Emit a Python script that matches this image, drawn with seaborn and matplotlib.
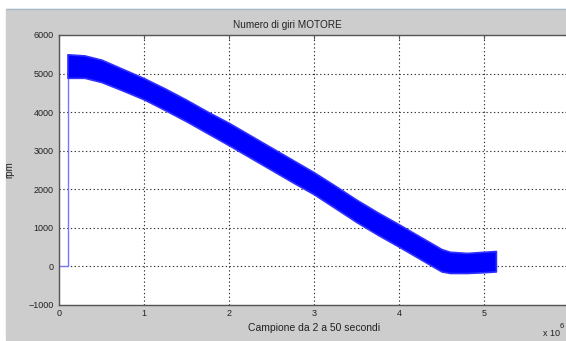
import numpy as np
import pandas as pd
import seaborn as sns
import matplotlib.pyplot as plt
from matplotlib.patches import Rectangle
from matplotlib.lines import Line2D

# start of the trace: zero, then jump up to the band
trace_x = [0, 0.10e6, 0.10e6]
trace_y = [0, 0, 5000]

# envelope of the noisy rpm band
band_x = [0.10e6, 0.30e6, 0.50e6, 0.75e6, 1.00e6, 1.25e6, 1.50e6, 1.75e6,
          2.00e6, 2.25e6, 2.50e6, 2.75e6, 3.00e6, 3.25e6, 3.50e6, 3.75e6,
          4.00e6, 4.25e6, 4.50e6, 4.60e6, 4.80e6, 5.00e6, 5.14e6]
band_hi = [5500, 5470, 5360, 5120, 4880, 4610, 4320, 4010,
           3720, 3400, 3080, 2760, 2440, 2090, 1730, 1400,
           1090, 770, 450, 380, 350, 380, 400]
band_lo = [4890, 4890, 4780, 4560, 4330, 4050, 3760, 3450,
           3140, 2820, 2500, 2180, 1870, 1510, 1150, 820,
           510, 190, -130, -170, -170, -150, -130]

xticks = [0, 1e6, 2e6, 3e6, 4e6, 5e6, 6e6]
xtick_labels = ['0', '1', '2', '3', '4', '5', '6']
yticks = [-1000, 0, 1000, 2000, 3000, 4000, 5000, 6000]

sns.set_style("white")
plt.rcParams['font.family'] = ['Liberation Sans', 'DejaVu Sans']

W, H = 566, 341
fig = plt.figure(figsize=(W / 100, H / 100), dpi=100, facecolor='white')
fig.patches.append(Rectangle((6 / W, 1 / H), 1, 1 - 10 / H, transform=fig.transFigure,
                             color='#cdcdcd', zorder=-2))
fig.lines.append(Line2D([6 / W, 1], [1 - 9 / H, 1 - 9 / H], transform=fig.transFigure,
                        color='#a9b9c9', lw=1))

ax = fig.add_axes([59 / W, 1 - 305 / H, 510 / W, 270 / H])
ax.set_facecolor('white')

df = pd.DataFrame({'x': band_x, 'hi': band_hi, 'lo': band_lo})
ax.fill_between(df['x'], df['lo'], df['hi'], color='#0000ff', lw=1.2,
                edgecolor='#3030ff', zorder=3)
sns.lineplot(x=trace_x, y=trace_y, sort=False, estimator=None, color='#7878ff',
             lw=1, ax=ax, zorder=2)

ax.set_xlim(0, 6e6)
ax.set_ylim(-1000, 6000)
ax.set_xticks(xticks, xtick_labels)
ax.set_yticks(yticks)
ax.grid(True, color='#333333', ls=(0, (1.2, 2.2)), lw=0.8)
ax.set_axisbelow(True)
for s in ax.spines.values():
    s.set_color('#555555')
    s.set_linewidth(1)
ax.tick_params(direction='in', length=3, width=0.8, colors='#555555',
               labelcolor='#222222', labelsize=6.5, top=True, right=True)
ax.tick_params(axis='y', pad=4)
ax.tick_params(axis='x', pad=3)

ax.set_title('Numero di giri MOTORE', fontsize=7.2, x=(287 - 59) / 510, pad=5, color='#222222')
ax.set_xlabel('Campione da 2 a 50 secondi', fontsize=7.5, labelpad=3.5, color='#222222')
ax.set_ylabel('rpm', fontsize=7, labelpad=10, color='#222222')

fig.text(543 / W, 1 - 333 / H, 'x 10', fontsize=6.5, va='center', ha='left', color='#222222')
fig.text(560 / W, 1 - 326 / H, '6', fontsize=5.5, va='center', ha='left', color='#222222')

fig.savefig('out.png', dpi=100, facecolor='white')
